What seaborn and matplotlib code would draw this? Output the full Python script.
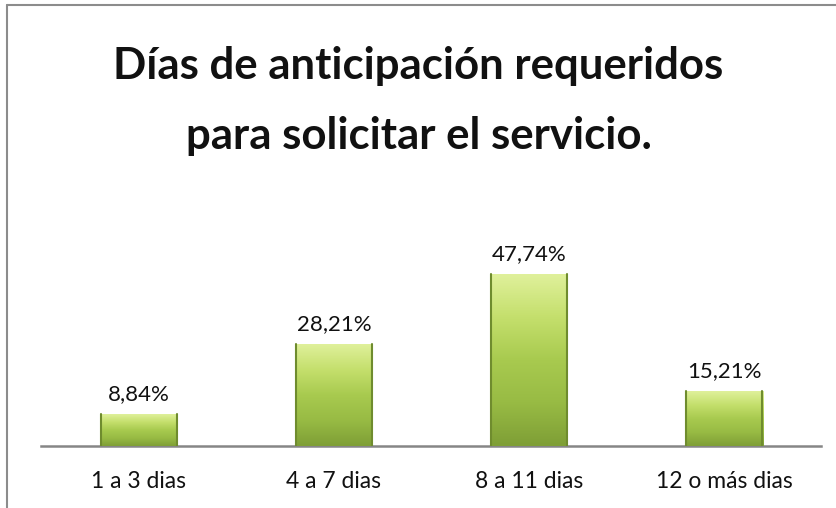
import numpy as np
import pandas as pd
import matplotlib
matplotlib.use('Agg')
import matplotlib.pyplot as plt
from matplotlib.lines import Line2D
import seaborn as sns

categorias = ['1 a 3 dias', '4 a 7 dias', '8 a 11 dias', '12 o más dias']
porcentajes = [8.84, 28.21, 47.74, 15.21]
etiquetas = ['8,84%', '28,21%', '47,74%', '15,21%']

df = pd.DataFrame({'categoria': categorias, 'pct': porcentajes})

sns.set_style('white')
plt.rcParams['font.family'] = ['Lato', 'DejaVu Sans']

fig = plt.figure(figsize=(8.37, 5.08), dpi=100)
ax = fig.add_axes([41.5 / 837, 1 - 446 / 508, 780 / 837, 216 / 508])

sns.barplot(x='categoria', y='pct', data=df, ax=ax, width=0.4,
            color='#9bbb59', saturation=1, edgecolor='none')

# degradado verde dentro de cada barra
grad = np.linspace(0, 1, 100).reshape(-1, 1)
cmap = matplotlib.colors.LinearSegmentedColormap.from_list(
    'verde', ['#7f9f36', '#98bb44', '#a8ca4f', '#c4df6c', '#dff09a'])
for p in ax.patches:
    x0, y0 = p.get_x(), p.get_y()
    w, h = p.get_width(), p.get_height()
    im = ax.imshow(grad, cmap=cmap, aspect='auto', origin='lower',
                   extent=[x0, x0 + w, y0, y0 + h], zorder=3)
    im.set_clip_path(p)
    # bordes laterales más oscuros (efecto bisel)
    ax.plot([x0 + 0.004, x0 + 0.004], [y0, y0 + h], color='#6f8c2e', lw=1.5, zorder=4)
    ax.plot([x0 + w - 0.004, x0 + w - 0.004], [y0, y0 + h], color='#6f8c2e', lw=1.5, zorder=4)

for i, (v, t) in enumerate(zip(porcentajes, etiquetas)):
    ax.text(i, v + 3.9, t, ha='center', va='baseline', fontsize=16, color='#111111')

ax.set_xlim(-0.5, 3.5)
ax.set_ylim(0, 60)
ax.set_xlabel('')
ax.set_ylabel('')
ax.set_yticks([])
ax.tick_params(axis='x', length=0, pad=18, labelsize=16.5, labelcolor='#111111')
sns.despine(ax=ax, left=True, top=True, right=True)
ax.spines['bottom'].set_color('#868686')
ax.spines['bottom'].set_linewidth(1.8)
ax.patch.set_alpha(0)

fig.text(0.5, 1 - 79 / 508, 'Días de anticipación requeridos', ha='center', va='baseline',
         fontsize=31.5, fontweight='bold', color='#111111')
fig.text(0.5, 1 - 149 / 508, 'para solicitar el servicio.', ha='center', va='baseline',
         fontsize=31.5, fontweight='bold', color='#111111')

# marco del gráfico
fig.add_artist(Line2D([7 / 837, 7 / 837], [0, 1 - 4.5 / 508], color='#8c8c8c', lw=1.5))
fig.add_artist(Line2D([7 / 837, 1], [1 - 4.5 / 508, 1 - 4.5 / 508], color='#8c8c8c', lw=1.5))

fig.savefig('out.png', dpi=100, facecolor='white')
